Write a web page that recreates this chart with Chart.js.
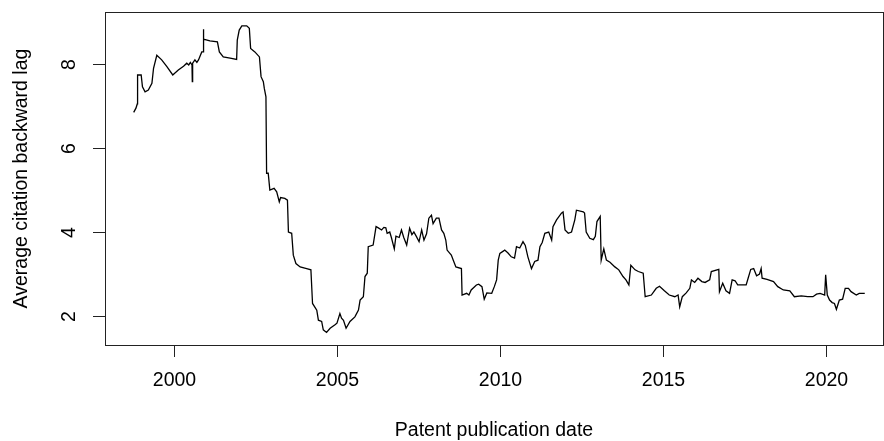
<!DOCTYPE html>
<html>
<head>
<meta charset="utf-8">
<script src="https://cdn.jsdelivr.net/npm/chart.js@4.4.1/dist/chart.umd.min.js"></script>
<style>
  body { margin: 0; background: #fff; }
  canvas { display: block; }
</style>
</head>
<body>
<canvas id="mycanvas" width="884" height="441"></canvas>
<script>
// publication date (decimal year) and average backward citation lag
var pubYear = [
  1998.76, 1998.83, 1998.87, 1998.88, 1998.99, 1999.03, 1999.11, 1999.21, 1999.32, 1999.37,
  1999.47, 1999.62, 1999.78, 1999.96, 2000.13, 2000.29, 2000.39, 2000.45, 2000.50, 2000.55,
  2000.56, 2000.57, 2000.64, 2000.70, 2000.75, 2000.85, 2000.89, 2000.90, 2000.91, 2000.93,
  2001.10, 2001.33, 2001.39, 2001.51, 2001.72, 2001.92, 2001.94, 2002.00, 2002.08, 2002.23,
  2002.31, 2002.35, 2002.48, 2002.62, 2002.67, 2002.74, 2002.77, 2002.82, 2002.84, 2002.89,
  2002.94, 2003.07, 2003.15, 2003.23, 2003.27, 2003.40, 2003.48, 2003.51, 2003.61, 2003.66,
  2003.74, 2003.87, 2004.07, 2004.20, 2004.25, 2004.38, 2004.43, 2004.53, 2004.58, 2004.68,
  2004.79, 2004.94, 2005.00, 2005.09, 2005.14, 2005.20, 2005.28, 2005.40, 2005.55, 2005.66,
  2005.71, 2005.81, 2005.86, 2005.93, 2005.96, 2006.11, 2006.20, 2006.27, 2006.37, 2006.44,
  2006.50, 2006.54, 2006.62, 2006.67, 2006.76, 2006.81, 2006.91, 2006.98, 2007.05, 2007.14,
  2007.23, 2007.30, 2007.36, 2007.44, 2007.52, 2007.60, 2007.67, 2007.75, 2007.82, 2007.90,
  2007.95, 2008.05, 2008.13, 2008.21, 2008.28, 2008.34, 2008.38, 2008.51, 2008.57, 2008.65,
  2008.82, 2008.84, 2008.98, 2009.05, 2009.12, 2009.28, 2009.35, 2009.45, 2009.52, 2009.60,
  2009.75, 2009.83, 2009.90, 2009.95, 2010.00, 2010.15, 2010.25, 2010.35, 2010.45, 2010.51,
  2010.61, 2010.71, 2010.78, 2010.86, 2010.97, 2011.07, 2011.17, 2011.23, 2011.30, 2011.38,
  2011.50, 2011.59, 2011.63, 2011.74, 2011.89, 2011.94, 2012.00, 2012.10, 2012.20, 2012.30,
  2012.35, 2012.56, 2012.60, 2012.65, 2012.76, 2012.87, 2012.93, 2012.98, 2013.08, 2013.11,
  2013.19, 2013.27, 2013.38, 2013.53, 2013.65, 2013.78, 2013.87, 2013.96, 2014.02, 2014.15,
  2014.25, 2014.40, 2014.46, 2014.65, 2014.80, 2014.90, 2015.05, 2015.20, 2015.37, 2015.47,
  2015.52, 2015.60, 2015.72, 2015.83, 2015.88, 2015.98, 2016.08, 2016.20, 2016.30, 2016.44,
  2016.49, 2016.72, 2016.74, 2016.84, 2016.94, 2017.05, 2017.13, 2017.22, 2017.30, 2017.56,
  2017.62, 2017.70, 2017.79, 2017.88, 2017.97, 2018.02, 2018.05, 2018.20, 2018.40, 2018.53,
  2018.70, 2018.90, 2019.04, 2019.25, 2019.45, 2019.61, 2019.72, 2019.83, 2019.97, 2020.00,
  2020.05, 2020.12, 2020.20, 2020.27, 2020.33, 2020.42, 2020.52, 2020.60, 2020.70, 2020.78,
  2020.94, 2021.03, 2021.20
];
var lagValue = [
  6.85, 6.95, 7.05, 7.74, 7.74, 7.46, 7.34, 7.38, 7.54, 7.90,
  8.21, 8.10, 7.94, 7.74, 7.86, 7.95, 8.02, 7.98, 8.04, 7.98,
  7.58, 8.02, 8.10, 8.04, 8.10, 8.29, 8.29, 8.83, 8.60, 8.59,
  8.55, 8.53, 8.29, 8.17, 8.14, 8.11, 8.57, 8.81, 8.91, 8.91,
  8.85, 8.37, 8.29, 8.17, 7.70, 7.58, 7.42, 7.22, 5.40, 5.40,
  5.00, 5.04, 4.96, 4.72, 4.82, 4.80, 4.76, 4.00, 3.97, 3.45,
  3.25, 3.17, 3.13, 3.10, 2.30, 2.14, 1.90, 1.87, 1.67, 1.61,
  1.71, 1.79, 1.83, 2.06, 1.95, 1.90, 1.71, 1.87, 1.98, 2.14,
  2.38, 2.46, 2.94, 3.02, 3.65, 3.69, 4.13, 4.10, 4.05, 4.11,
  4.10, 3.97, 4.00, 3.87, 3.60, 3.90, 3.87, 4.05, 3.87, 3.69,
  4.09, 3.94, 4.00, 3.89, 3.77, 4.05, 3.81, 3.96, 4.33, 4.40,
  4.20, 4.33, 4.33, 4.05, 3.97, 3.81, 3.57, 3.45, 3.33, 3.17,
  3.13, 2.50, 2.54, 2.50, 2.62, 2.74, 2.76, 2.70, 2.40, 2.55,
  2.54, 2.70, 2.86, 3.33, 3.49, 3.57, 3.50, 3.41, 3.38, 3.65,
  3.62, 3.77, 3.68, 3.41, 3.13, 3.30, 3.33, 3.65, 3.75, 3.97,
  4.00, 3.81, 4.13, 4.29, 4.45, 4.48, 4.05, 3.97, 4.00, 4.29,
  4.52, 4.48, 4.45, 4.00, 3.85, 3.82, 3.90, 4.25, 4.37, 3.33,
  3.60, 3.33, 3.28, 3.17, 3.10, 2.94, 2.86, 2.74, 3.21, 3.10,
  3.06, 3.02, 2.46, 2.50, 2.66, 2.71, 2.60, 2.50, 2.46, 2.50,
  2.22, 2.46, 2.55, 2.66, 2.86, 2.80, 2.90, 2.82, 2.80, 2.86,
  3.06, 3.11, 2.58, 2.78, 2.60, 2.54, 2.86, 2.84, 2.74, 2.74,
  2.90, 3.11, 3.13, 2.96, 3.00, 3.13, 2.90, 2.87, 2.82, 2.70,
  2.62, 2.60, 2.46, 2.48, 2.46, 2.46, 2.52, 2.54, 2.50, 2.98,
  2.50, 2.38, 2.32, 2.30, 2.16, 2.38, 2.40, 2.66, 2.66, 2.58,
  2.50, 2.54, 2.54
];
var xTicks = [2000, 2005, 2010, 2015, 2020];
var yTicks = [2, 4, 6, 8];
var xTitle = 'Patent publication date';
var yTitle = 'Average citation backward lag';

var points = [];
for (var i in pubYear) {
  points.push({ x: pubYear[i], y: lagValue[i] });
}

var FONT = '19.5px "Liberation Sans", Arial, sans-serif';

// R style frame, ticks and labels
var rAxes = {
  id: 'rAxes',
  afterDraw: function (chart) {
    var c = chart.ctx;
    var a = chart.chartArea;
    var xs = chart.scales.x;
    var ys = chart.scales.y;
    c.save();
    c.strokeStyle = '#222';
    c.lineWidth = 1;
    c.strokeRect(a.left + 0.5, a.top + 0.5, a.right - a.left, a.bottom - a.top);

    c.fillStyle = '#000';
    c.font = FONT;
    c.textAlign = 'center';
    c.textBaseline = 'middle';
    for (var i = 0; i < xTicks.length; i++) {
      var px = Math.round(xs.getPixelForValue(xTicks[i])) + 0.5;
      c.beginPath();
      c.moveTo(px, a.bottom);
      c.lineTo(px, a.bottom + 12);
      c.stroke();
      c.fillText(String(xTicks[i]), px, a.bottom + 36);
    }
    for (var j = 0; j < yTicks.length; j++) {
      var py = Math.round(ys.getPixelForValue(yTicks[j])) + 0.5;
      c.beginPath();
      c.moveTo(a.left, py);
      c.lineTo(a.left - 12, py);
      c.stroke();
      c.save();
      c.translate(a.left - 35, py);
      c.rotate(-Math.PI / 2);
      c.fillText(String(yTicks[j]), 0, 0);
      c.restore();
    }
    c.fillText(xTitle, (a.left + a.right) / 2, a.bottom + 86);
    c.save();
    c.translate(22, (a.top + a.bottom) / 2);
    c.rotate(-Math.PI / 2);
    c.fillText(yTitle, 0, 0);
    c.restore();
    c.restore();
  }
};

var ctx = document.getElementById('mycanvas');
var lagChart = new Chart(ctx, {
  type: 'line',
  data: {
    datasets: [{
      label: 'lag',
      data: points,
      borderColor: '#000',
      borderWidth: 1.3,
      pointRadius: 0,
      tension: 0,
      fill: false
    }]
  },
  options: {
    responsive: false,
    animation: false,
    layout: { padding: { left: 105, top: 12, right: 1, bottom: 96 } },
    plugins: { legend: { display: false }, tooltip: { enabled: false } },
    scales: {
      x: { type: 'linear', display: false, min: 1997.88, max: 2021.76 },
      y: { type: 'linear', display: false, min: 1.31, max: 9.24 }
    }
  },
  plugins: [rAxes]
});
</script>
</body>
</html>
